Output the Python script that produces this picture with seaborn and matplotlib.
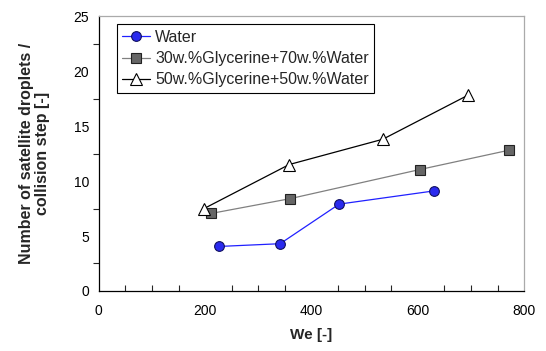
import matplotlib
matplotlib.use("Agg")
import matplotlib.pyplot as plt
import seaborn as sns
import pandas as pd
from matplotlib.ticker import MultipleLocator

water_we = [226, 341, 452, 630]
water_n = [4.05, 4.3, 7.9, 9.1]
g30_we = [211, 360, 604, 771]
g30_n = [7.05, 8.4, 11.05, 12.8]
g50_we = [198, 358, 534, 694]
g50_n = [7.5, 11.5, 13.8, 17.8]
labels = ["Water", "30w.%Glycerine+70w.%Water", "50w.%Glycerine+50w.%Water"]

sns.set_style("white")
plt.rcParams['font.family'] = ['Liberation Sans', 'DejaVu Sans']

fig = plt.figure(figsize=(5.46, 3.51), dpi=100)
ax = fig.add_axes([0.181, 0.171, 0.779, 0.783])

styles = [
    dict(color="#2020ff", marker="o", mfc="#2a2aee", mec="#101060", ms=7, lw=0.9),
    dict(color="#808080", marker="s", mfc="#666666", mec="#222222", ms=7, lw=0.9),
    dict(color="#000000", marker="^", mfc="white", mec="#000000", ms=8, lw=0.9),
]
data = [(water_we, water_n), (g30_we, g30_n), (g50_we, g50_n)]
for (xs, ys), lab, st in zip(data, labels, styles):
    df = pd.DataFrame({"We": xs, "N": ys})
    sns.lineplot(data=df, x="We", y="N", ax=ax, label=lab, color=st["color"],
                 marker=st["marker"], markerfacecolor=st["mfc"], markeredgecolor=st["mec"],
                 markersize=st["ms"], linewidth=st["lw"], markeredgewidth=0.8)

ax.set_xlim(0, 800)
ax.set_ylim(0, 25)
ax.xaxis.set_major_locator(MultipleLocator(200))
ax.xaxis.set_minor_locator(MultipleLocator(50))
ax.yaxis.set_major_locator(MultipleLocator(5))
ax.yaxis.set_minor_locator(MultipleLocator(2.5))
ax.tick_params(which="major", direction="inout", length=7, width=0.8, labelsize=10, colors="black")
ax.tick_params(axis="x", which="minor", direction="in", length=4, width=0.8, bottom=True)
ax.tick_params(axis="y", which="minor", direction="out", length=4, width=0.8, left=True)
ax.tick_params(axis="both", which="both", top=False, right=False)
ax.tick_params(axis="x", which="major", pad=6)

for s in ["left", "bottom"]:
    ax.spines[s].set_color("black")
    ax.spines[s].set_linewidth(0.9)
for s in ["top", "right"]:
    ax.spines[s].set_color("#aaaaaa")
    ax.spines[s].set_linewidth(0.9)

ax.set_xlabel("We [-]", fontsize=11, fontweight="bold", labelpad=7)
ax.set_ylabel("Number of satellite droplets /\ncollision step [-]", fontsize=11.5,
              fontweight="bold", labelpad=17, linespacing=1.05)

leg = ax.legend(loc="upper left", bbox_to_anchor=(0.042, 0.971), borderaxespad=0,
                fontsize=11.5, frameon=True, fancybox=False, edgecolor="black",
                framealpha=1, borderpad=0.35, labelspacing=0.4, handlelength=1.75,
                handletextpad=0.3)
leg.get_frame().set_linewidth(0.8)

fig.savefig("out.png", dpi=100)
